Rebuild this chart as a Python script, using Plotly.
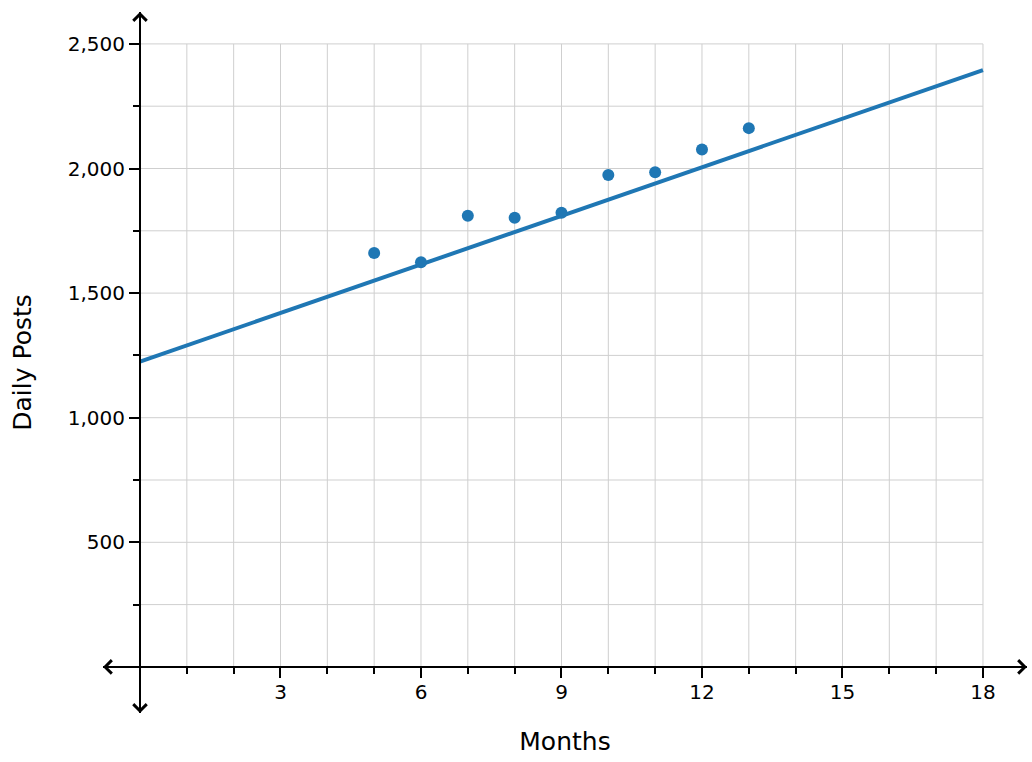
import plotly.graph_objects as go

# Data
months = [5, 6, 7, 8, 9, 10, 11, 12, 13]
daily_posts = [1661, 1624, 1810, 1802, 1822, 1974, 1985, 2076, 2162]

# Trend line end points
line_months = [0, 18]
line_posts = [1225, 2395]

x_ticks = [3, 6, 9, 12, 15, 18]
y_ticks = [500, 1000, 1500, 2000, 2500]

x_range = [-0.79, 18.94]
y_range = [-185, 2628]

blue = '#1f77b4'
font = 'DejaVu Sans'

fig = go.Figure()

fig.add_trace(go.Scatter(
    x=line_months, y=line_posts, mode='lines',
    line=dict(color=blue, width=4), hoverinfo='skip'
))
fig.add_trace(go.Scatter(
    x=months, y=daily_posts, mode='markers',
    marker=dict(color=blue, size=12)
))

# Grid only over the quadrant 0..18 x 0..2500
grid_style = dict(color='#cfcfcf', width=1)
for gx in range(1, 19):
    fig.add_shape(type='line', x0=gx, x1=gx, y0=0, y1=2500,
                  line=grid_style, layer='below')
for gy in range(250, 2501, 250):
    fig.add_shape(type='line', x0=0, x1=18, y0=gy, y1=gy,
                  line=grid_style, layer='below')

# where the axes cross, in paper fractions
xpos = (0 - x_range[0]) / (x_range[1] - x_range[0])
ypos = (0 - y_range[0]) / (y_range[1] - y_range[0])

fig.update_layout(
    width=1032, height=762,
    margin=dict(l=103, r=5, t=12, b=49),
    paper_bgcolor='white', plot_bgcolor='white',
    showlegend=False,
    font=dict(family=font, size=20, color='black'),
    xaxis=dict(
        range=x_range, anchor='free', position=ypos, automargin=False,
        showgrid=False, zeroline=False,
        showline=True, linecolor='black', linewidth=2,
        tickmode='array', tickvals=x_ticks, ticklabelstandoff=-3,
        ticks='outside', ticklen=10, tickwidth=2, tickcolor='black',
        minor=dict(dtick=1, tick0=0, ticks='outside', ticklen=6,
                   tickwidth=2, tickcolor='black', showgrid=False),
        title=dict(text='Months', font=dict(size=25), standoff=29),
    ),
    yaxis=dict(
        range=y_range, anchor='free', position=xpos, automargin=False,
        showgrid=False, zeroline=False,
        showline=True, linecolor='black', linewidth=2,
        tickmode='array', tickvals=y_ticks, tickformat=',',
        ticks='outside', ticklen=10, tickwidth=2, tickcolor='black',
        minor=dict(dtick=250, tick0=0, ticks='outside', ticklen=6,
                   tickwidth=2, tickcolor='black', showgrid=False),
        title=dict(text='Daily Posts', font=dict(size=25), standoff=28),
    ),
)

# Arrow heads at both ends of each axis
arrow = dict(text='', showarrow=True, arrowhead=4, arrowsize=1.3,
             arrowwidth=2, arrowcolor='black', standoff=0)
fig.add_annotation(xref='paper', yref='y', x=1, y=0, ax=-20, ay=0, **arrow)
fig.add_annotation(xref='paper', yref='y', x=0, y=0, ax=20, ay=0, **arrow)
fig.add_annotation(xref='x', yref='paper', x=0, y=1, ax=0, ay=20, **arrow)
fig.add_annotation(xref='x', yref='paper', x=0, y=0, ax=0, ay=-20, **arrow)

# drop the page's default body margin so the figure sits at the window corner
fig.write_html('out.html', config={'displayModeBar': False},
               post_script="document.body.style.margin='0';")
